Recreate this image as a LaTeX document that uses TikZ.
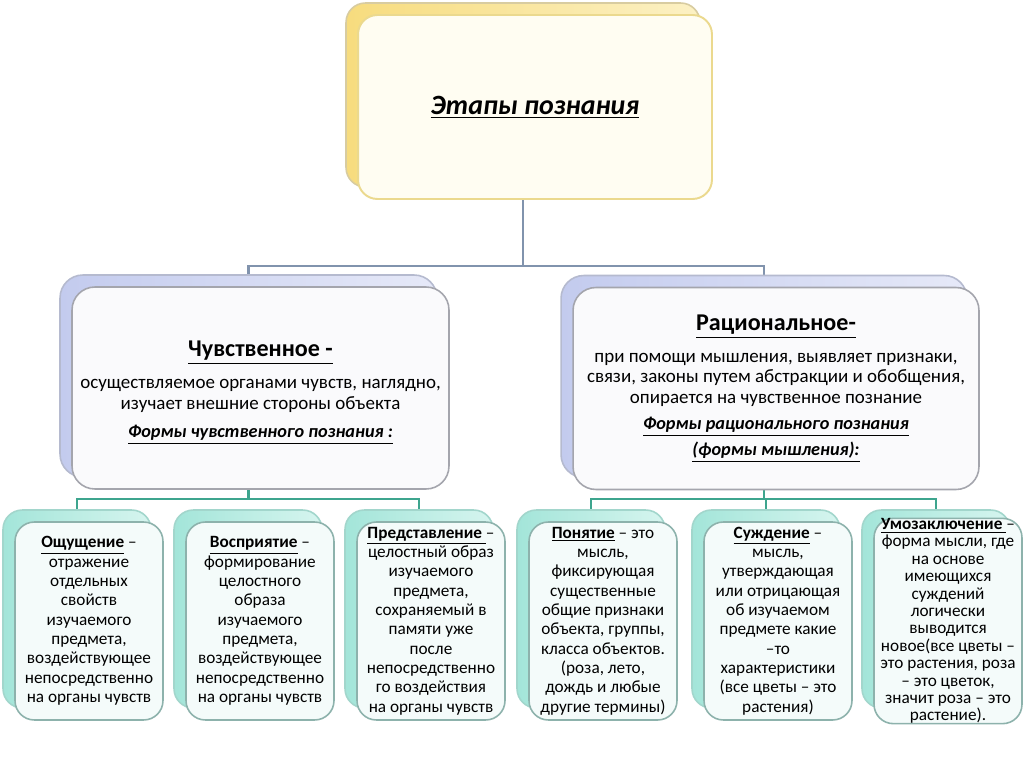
\documentclass[tikz,border=0pt]{standalone}
\usepackage{fontspec}
\setmainfont{Carlito}
\usepackage{xcolor}
\usetikzlibrary{positioning,backgrounds}

\definecolor{topBackL}{HTML}{F7DC7E}
\definecolor{topBackR}{HTML}{FCF1C4}
\definecolor{topBackLine}{HTML}{D8CCA0}
\definecolor{topFill}{HTML}{FFFDF2}
\definecolor{topLine}{HTML}{EBD98E}
\definecolor{midBackL}{HTML}{C3CBEE}
\definecolor{midBackR}{HTML}{E6E9F8}
\definecolor{midBackLine}{HTML}{B5BACF}
\definecolor{midFill}{HTML}{FAFAFC}
\definecolor{midLine}{HTML}{A4A5AD}
\definecolor{lowBackL}{HTML}{A3E5D9}
\definecolor{lowBackR}{HTML}{D6F5EF}
\definecolor{lowBackLine}{HTML}{A2D6CC}
\definecolor{lowFill}{HTML}{F4FBFA}
\definecolor{lowLine}{HTML}{8DB2AC}
\definecolor{topLinkCol}{HTML}{8193AD}
\definecolor{lowLinkCol}{HTML}{3DA58E}

\newcommand{\headfont}{\fontsize{13.7}{16}\selectfont\bfseries}
\newcommand{\formsline}[1]{{\fontsize{10.4}{11.6}\selectfont\textbf{\textit{\underline{#1}}}}}

\begin{document}
\begin{tikzpicture}[x=0.02cm,y=-0.02cm,
    card/.style={rounded corners=11pt,line width=0.9pt,inner sep=0pt,outer sep=0pt},
    topback/.style={card,draw=topBackLine,left color=topBackL,right color=topBackR,
      minimum width=7.08cm,minimum height=3.68cm},
    topfront/.style={card,draw=topLine,fill=topFill,line width=1.1pt,
      minimum width=7.08cm,minimum height=3.68cm},
    midback/.style={card,rounded corners=13pt,draw=midBackLine,left color=midBackL,right color=midBackR,
      minimum height=4.04cm},
    midfront/.style={card,rounded corners=13pt,draw=midLine,fill=midFill,
      minimum height=4.04cm,align=center,
      font=\fontsize{10.8}{11.6}\selectfont},
    lowback/.style={card,draw=lowBackLine,left color=lowBackL,right color=lowBackR,
      minimum width=2.96cm,minimum height=3.96cm},
    lowfront/.style={card,draw=lowLine,fill=lowFill,
      minimum width=2.96cm,minimum height=3.96cm,align=center,
      font=\fontsize{9.8}{11}\selectfont},
    toplink/.style={draw=topLinkCol,line width=1.4pt},
    lowlink/.style={draw=lowLinkCol,line width=1.4pt}]
  \useasboundingbox (0,0) rectangle (1024,767);

  % root
  \node (topback) at (523,95) [topback] {};
  \node (top) at (535,107) [topfront]
    {\fontsize{15.9}{19}\selectfont\bfseries\itshape\underline{Этапы познания}};

  % level 1
  \node (sensback) at (248.5,376) [midback,minimum width=7.54cm] {};
  \node (sens) at (260.5,388) [midfront,minimum width=7.54cm]
    {\rule{0pt}{14pt}{\headfont\underline{Чувственное -}}\\[6.6pt]
     осуществляемое органами чувств, наглядно,\\
     изучает внешние стороны объекта\\[4.6pt]
     \formsline{Формы чувственного познания :}};
  \node (ratback) at (764,376.5) [midback,minimum width=8.12cm] {};
  \node (rat) at (776,388.5) [midfront,minimum width=8.12cm]
    {{\headfont\underline{Рациональное-}}\\[6.4pt]
     при помощи мышления, выявляет признаки,\\
     связи, законы путем абстракции и обобщения,\\
     опирается на чувственное познание\\[3.6pt]
     \formsline{Формы рационального познания}\\[3pt]
     \formsline{(формы мышления):}};

  % leaves
  \node (feelback) at (77,609) [lowback] {};
  \node (feel) at (89,621) [lowfront]
    {\textbf{\underline{Ощущение}} –\\отражение\\отдельных\\свойств\\изучаемого\\предмета,\\воздействующее\\непосредственно\\на органы чувств};
  \node (percback) at (248,609) [lowback] {};
  \node (perc) at (260,621) [lowfront]
    {\textbf{\underline{Восприятие}} –\\формирование\\целостного\\образа\\изучаемого\\предмета,\\воздействующее\\непосредственно\\на органы чувств};
  \node (reprback) at (419,609) [lowback] {};
  \node (repr) at (431,621) [lowfront]
    {\textbf{\underline{Представление }}–\\целостный образ\\изучаемого\\предмета,\\сохраняемый в\\памяти уже\\после\\непосредственно\\го воздействия\\на органы чувств};
  \node (concback) at (591,609) [lowback] {};
  \node (conc) at (603,621) [lowfront]
    {\textbf{\underline{Понятие}} – это\\мысль,\\фиксирующая\\существенные\\общие признаки\\объекта, группы,\\класса объектов.\\(роза, лето,\\дождь и любые\\другие термины)};
  \node (judgback) at (766,609) [lowback] {};
  \node (judg) at (778,621) [lowfront]
    {\textbf{\underline{Суждение}} –\\мысль,\\утверждающая\\или отрицающая\\об изучаемом\\предмете какие\\–то\\характеристики\\(все цветы – это\\растения)};
  \node (inferback) at (936,609) [lowback] {};
  \node (infer) at (948,621) [lowfront,font=\fontsize{9.8}{9.9}\selectfont]
    {\textbf{\underline{Умозаключение }}–\\форма мысли, где\\на основе\\имеющихся\\суждений\\логически\\выводится\\новое(все цветы –\\это растения, роза\\– это цветок,\\значит роза – это\\растение).};

  % edges
  \coordinate (topjoin) at (523,266);
  \coordinate (sensjoin) at (248.5,499);
  \coordinate (ratjoin) at (764,499);
  \begin{pgfonlayer}{background}
    \fill[white] (0,0) rectangle (1024,767);
    \draw[toplink] (topback.south) -- (topjoin);
    \draw[toplink] (sensback.north) |- (topjoin) -| (ratback.north);
    \draw[lowlink] (sensback.south) -- (sensjoin);
    \draw[lowlink] (feelback.north) |- (sensjoin) -| (reprback.north);
    \draw[lowlink] (ratback.south) -- (ratjoin);
    \draw[lowlink] (concback.north) |- (ratjoin) -| (inferback.north);
    \draw[lowlink] (judgback.north) -- (judgback.north |- ratjoin);
  \end{pgfonlayer}
\end{tikzpicture}
\end{document}
